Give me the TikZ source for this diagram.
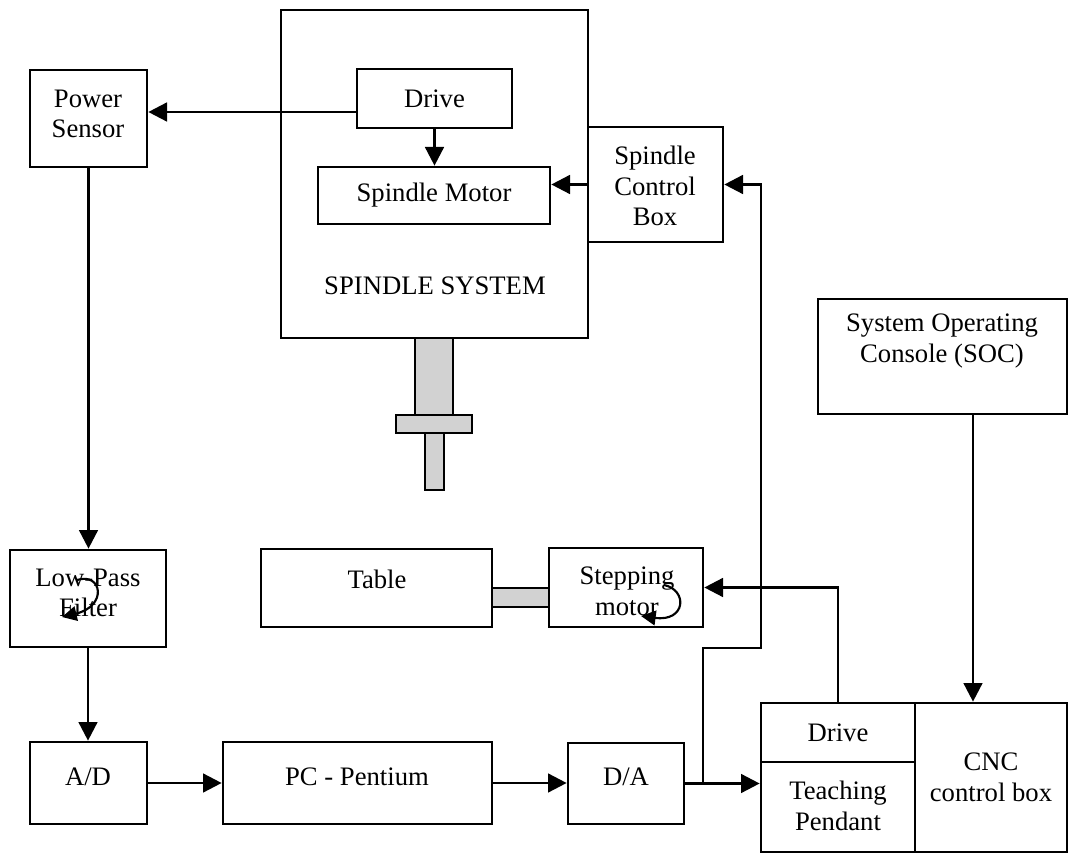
\documentclass[tikz,border=0pt]{standalone}
\usepackage{fontspec}
\setmainfont{Liberation Serif}
\usetikzlibrary{fit,arrows.meta}
\begin{document}
\begin{tikzpicture}[x=0.375pt,y=-0.375pt,
 box/.style={draw,line width=1pt,inner sep=0pt},
 shaft/.style={draw,line width=1pt,fill=gray!35},
 arr/.style={line width=1pt,-{Triangle[length=7pt,width=7pt]}},
 rot/.style={line width=0.8pt,-{Triangle[length=5.5pt,width=5.5pt]}},
 lbl/.style={align=center,font=\fontsize{10}{11.5}\selectfont,inner sep=0pt}]
\useasboundingbox (0,0) rectangle (1069,856);
% boxes
\node[box,fit={(281,10)(588,338)}] (sys) {};
\node[box,fit={(357,69)(512,128)}] (drv) {};
\node[box,fit={(318,167)(550,224)}] (mot) {};
\node[box,fit={(588,127)(723,242)}] (scb) {};
\node[box,fit={(30,70)(147,167)}] (ps) {};
\node[box,fit={(10,550)(166,647)}] (lpf) {};
\node[box,fit={(30,742)(147,824)}] (ad) {};
\node[box,fit={(223,742)(492,824)}] (pc) {};
\node[box,fit={(568,743)(684,824)}] (da) {};
\node[box,fit={(261,549)(492,627)}] (tab) {};
\node[box,fit={(549,548)(703,627)}] (stm) {};
\node[box,fit={(818,299)(1067,414)}] (soc) {};
\node[box,fit={(761,703)(915,762)}] (cdrv) {};
\node[box,fit={(761,762)(915,852)}] (tp) {};
\node[box,fit={(915,703)(1067,852)}] (cnc) {};
% labels
\node[lbl] (syslbl) at (435,286) {SPINDLE SYSTEM};
\node[lbl] (drvlbl) at (drv.center) {Drive};
\node[lbl] (motlbl) at (mot.center) {Spindle Motor};
\node[lbl] (scblbl) at (655,186) {Spindle\\Control\\Box};
\node[lbl] (pslbl) at (88,114) {Power\\Sensor};
\node[lbl] (lpflbl) at (88,593) {Low-Pass\\Filter};
\node[lbl] (adlbl) at (88,777) {A/D};
\node[lbl] (pclbl) at (357,777) {PC - Pentium};
\node[lbl] (dalbl) at (626,777) {D/A};
\node[lbl] (tablbl) at (377,579) {Table};
\node[lbl] (stmlbl) at (627,591) {Stepping\\motor};
\node[lbl] (soclbl) at (942,341) {System Operating\\Console (SOC)};
\node[lbl] (cdrvlbl) at (cdrv.center) {Drive};
\node[lbl] (tplbl) at (838,806) {Teaching\\Pendant};
\node[lbl] (cnclbl) at (991,777) {CNC\\control box};
% shafts
\draw[shaft] (415,338) rectangle (453,415);
\draw[shaft] (396,415) rectangle (472,433);
\draw[shaft] (425,433) rectangle (444,490);
\draw[shaft] (492,588) rectangle (549,607);
% helper coordinates
\coordinate (yps) at (0,112);
\coordinate (xsoc) at (973,0);
\coordinate (j1) at (703,783);
\coordinate (k1) at (703,648);
\coordinate (k2) at (761,648);
% connectors
\draw[arr] (drv.west |- yps) -- (ps.east |- yps);
\draw[arr] (drv.south) -- (drv.south |- mot.north);
\draw[arr] (scb.west) -- (mot.east |- scb.west);
\draw[arr] (ps.south) -- (ps.south |- lpf.north);
\draw[arr] (lpf.south) -- (lpf.south |- ad.north);
\draw[arr] (ad.east) -- (pc.west |- ad.east);
\draw[arr] (pc.east) -- (da.west |- pc.east);
\draw[arr] (da.east) -- (tp.west |- da.east);
\draw[arr] (j1) -- (k1) -- (k2) |- (scb.east);
\draw[arr] (cdrv.north) |- (stm.east);
\draw[arr] (soc.south -| xsoc) -- (cnc.north -| xsoc);
% rotation arrows
\draw[rot] (77,580) .. controls (102,572) and (108,606) .. (62,617);
\draw[rot] (664,585) .. controls (688,590) and (686,622) .. (641,616);
\end{tikzpicture}
\end{document}
